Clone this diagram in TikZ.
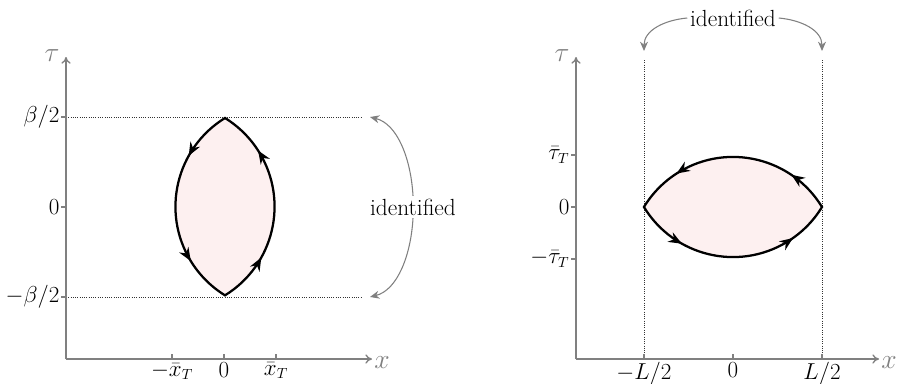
\documentclass[tikz,border=0pt]{standalone}
\usetikzlibrary{arrows.meta,decorations.markings}
\definecolor{lensfill}{RGB}{253,240,240}
\definecolor{axisgray}{RGB}{128,128,128}
\begin{document}
\begin{tikzpicture}[x=0.75pt,y=-0.75pt,
  axis/.style={draw=axisgray, line width=1pt, -{To[length=5pt,width=7pt]}},
  tickline/.style={draw=axisgray, line width=0.9pt},
  idline/.style={draw=black!80, densely dotted, line width=0.7pt},
  lens/.style={draw=black, line width=1.7pt, fill=lensfill, line join=miter,
    postaction={decorate}},
  ident/.style={draw=axisgray, line width=0.8pt, -{Stealth[length=7pt,width=6pt]}},
  lbl/.style={font=\fontsize{16}{18}\selectfont, inner sep=1pt},
  axlbl/.style={font=\fontsize{20}{24}\selectfont, inner sep=1pt, text=axisgray},
  idtext/.style={font=\fontsize{17.5}{20}\selectfont, inner sep=2pt},
  flowA/.style={decoration={markings,
    mark=at position 0.125 with {\arrow{Stealth[length=10pt,width=8pt]}},
    mark=at position 0.385 with {\arrow{Stealth[length=10pt,width=8pt]}},
    mark=at position 0.625 with {\arrow{Stealth[length=10pt,width=8pt]}},
    mark=at position 0.89 with {\arrow{Stealth[length=10pt,width=8pt]}}}},
  flowB/.style={decoration={markings,
    mark=at position 0.105 with {\arrow{Stealth[length=10pt,width=8pt]}},
    mark=at position 0.39 with {\arrow{Stealth[length=10pt,width=8pt]}},
    mark=at position 0.625 with {\arrow{Stealth[length=10pt,width=8pt]}},
    mark=at position 0.9 with {\arrow{Stealth[length=10pt,width=8pt]}}}},
]
\useasboundingbox (0,0) rectangle (897,383);

% ---------------- Left panel ----------------
\coordinate (O1) at (66,359);
\coordinate (X1) at (372,359);
\coordinate (T1) at (66,57);
\coordinate (dl1a) at (66,117);
\coordinate (dl1b) at (362,117);
\coordinate (dl2a) at (66,297);
\coordinate (dl2b) at (362,297);

\draw[idline] (dl1a) -- (dl1b);
\draw[idline] (dl2a) -- (dl2b);

% lens
\filldraw[lens, flowA] (225,118) arc[start angle=238.4, end angle=121.6, radius=104.1]
  arc[start angle=58.4, end angle=-58.4, radius=104.1] -- cycle;

\draw[axis] (O1) -- (X1);
\draw[axis] (O1) -- (T1);
\node[axlbl] (xl1) at (382,363) {$x$};
\node[axlbl] (tl1) at (52,56) {$\tau$};

% tau ticks
\draw[tickline] (61,117) -- (66,117);
\draw[tickline] (61,207) -- (66,207);
\draw[tickline] (61,297) -- (66,297);
\node[lbl, anchor=east] (lb1) at (61,117) {$\beta/2$};
\node[lbl, anchor=east] (lb2) at (61,207) {$0$};
\node[lbl, anchor=east] (lb3) at (61,297) {$-\beta/2$};

% x ticks
\draw[tickline] (172,359) -- (172,354);
\draw[tickline] (224,359) -- (224,354);
\draw[tickline] (276,359) -- (276,354);
\node[lbl, anchor=north] (lx1) at (172,361) {$-\bar{x}_T$};
\node[lbl, anchor=north] (lx2) at (224,361) {$0$};
\node[lbl, anchor=north] (lx3) at (276,361) {$\bar{x}_T$};

% identified (left)
\node[idtext] (id1) at (413,207) {identified};
\coordinate (a1) at (370,117);
\coordinate (a2) at (370,297);
\draw[ident] (id1.north) .. controls (411,160) and (398,124) .. (a1);
\draw[ident] (id1.south) .. controls (411,254) and (398,290) .. (a2);

% ---------------- Right panel ----------------
\coordinate (O2) at (576,359);
\coordinate (X2) at (879,359);
\coordinate (T2) at (576,57);
\coordinate (v1a) at (644,60);
\coordinate (v1b) at (644,359);
\coordinate (v2a) at (822,60);
\coordinate (v2b) at (822,359);

\draw[idline] (v1a) -- (v1b);
\draw[idline] (v2a) -- (v2b);

% lens
\filldraw[lens, flowB] (822,207) arc[start angle=-31.3, end angle=-148.7, radius=104.2]
  arc[start angle=148.7, end angle=31.3, radius=104.2] -- cycle;

\draw[axis] (O2) -- (X2);
\draw[axis] (O2) -- (T2);
\node[axlbl] (xl2) at (889,363) {$x$};
\node[axlbl] (tl2) at (562,56) {$\tau$};

% tau ticks
\draw[tickline] (571,155) -- (576,155);
\draw[tickline] (571,207) -- (576,207);
\draw[tickline] (571,259) -- (576,259);
\node[lbl, anchor=east] (rb1) at (571,155) {$\bar{\tau}_T$};
\node[lbl, anchor=east] (rb2) at (571,207) {$0$};
\node[lbl, anchor=east] (rb3) at (571,259) {$-\bar{\tau}_T$};

% x ticks
\draw[tickline] (644,359) -- (644,354);
\draw[tickline] (733,359) -- (733,354);
\draw[tickline] (822,359) -- (822,354);
\node[lbl, anchor=north] (rx1) at (644,361) {$-L/2$};
\node[lbl, anchor=north] (rx2) at (733,361) {$0$};
\node[lbl, anchor=north] (rx3) at (822,361) {$L/2$};

% identified (right)
\node[idtext] (id2) at (733,18) {identified};
\coordinate (b1) at (644,51);
\coordinate (b2) at (822,51);
\draw[ident] (id2.west) .. controls (665,20) and (644,30) .. (b1);
\draw[ident] (id2.east) .. controls (801,20) and (822,30) .. (b2);
\end{tikzpicture}
\end{document}
